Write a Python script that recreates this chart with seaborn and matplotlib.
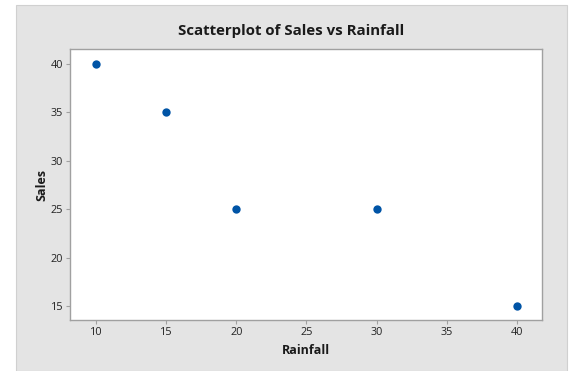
import matplotlib
matplotlib.use('Agg')
import matplotlib.pyplot as plt
import seaborn as sns
import pandas as pd
from matplotlib.patches import Rectangle

# data
rainfall = [10, 15, 20, 30, 40]
sales = [40, 35, 25, 25, 15]
x_ticks = [10, 15, 20, 25, 30, 35, 40]
y_ticks = [15, 20, 25, 30, 35, 40]

df = pd.DataFrame({'Rainfall': rainfall, 'Sales': sales})

sns.set_style('white')
plt.rcParams['font.family'] = ['Open Sans', 'DejaVu Sans']

fig = plt.figure(figsize=(5.71, 3.71), dpi=100)
fig.patch.set_facecolor('white')
# gray panel behind the plot
fig.patches.append(Rectangle((16 / 571, 0), 551 / 571, 366 / 371,
                             transform=fig.transFigure, facecolor='#e4e4e4',
                             edgecolor='#d0d0d0', linewidth=0.8, zorder=-1))

ax = fig.add_axes([70 / 571, 1 - 320 / 371, 472 / 571, 271 / 371])
ax.set_zorder(2)
sns.scatterplot(data=df, x='Rainfall', y='Sales', ax=ax, color='#0054a6',
                s=36, edgecolor='#0054a6', linewidth=0)

ax.set_xlim(8.15, 41.78)
ax.set_ylim(13.55, 41.55)
ax.set_xticks(x_ticks)
ax.set_yticks(y_ticks)
ax.set_facecolor('white')
for sp in ax.spines.values():
    sp.set_color('#a0a0a0')
    sp.set_linewidth(1.0)
ax.tick_params(axis='both', which='both', direction='out', length=3, width=0.8,
               color='#a0a0a0', labelsize=7.8, labelcolor='#222222', pad=2,
               bottom=True, left=True)

# title is centred on the gray panel, not on the axes
ax.set_title('Scatterplot of Sales vs Rainfall', fontsize=10.8, fontweight='bold',
             color='#1a1a1a', pad=10, x=0.469)
ax.set_xlabel('Rainfall', fontsize=9, fontweight='bold', color='#1a1a1a', labelpad=4)
ax.set_ylabel('Sales', fontsize=9, fontweight='bold', color='#1a1a1a', labelpad=1.5)

fig.savefig('out.png', dpi=100, facecolor=fig.get_facecolor())
